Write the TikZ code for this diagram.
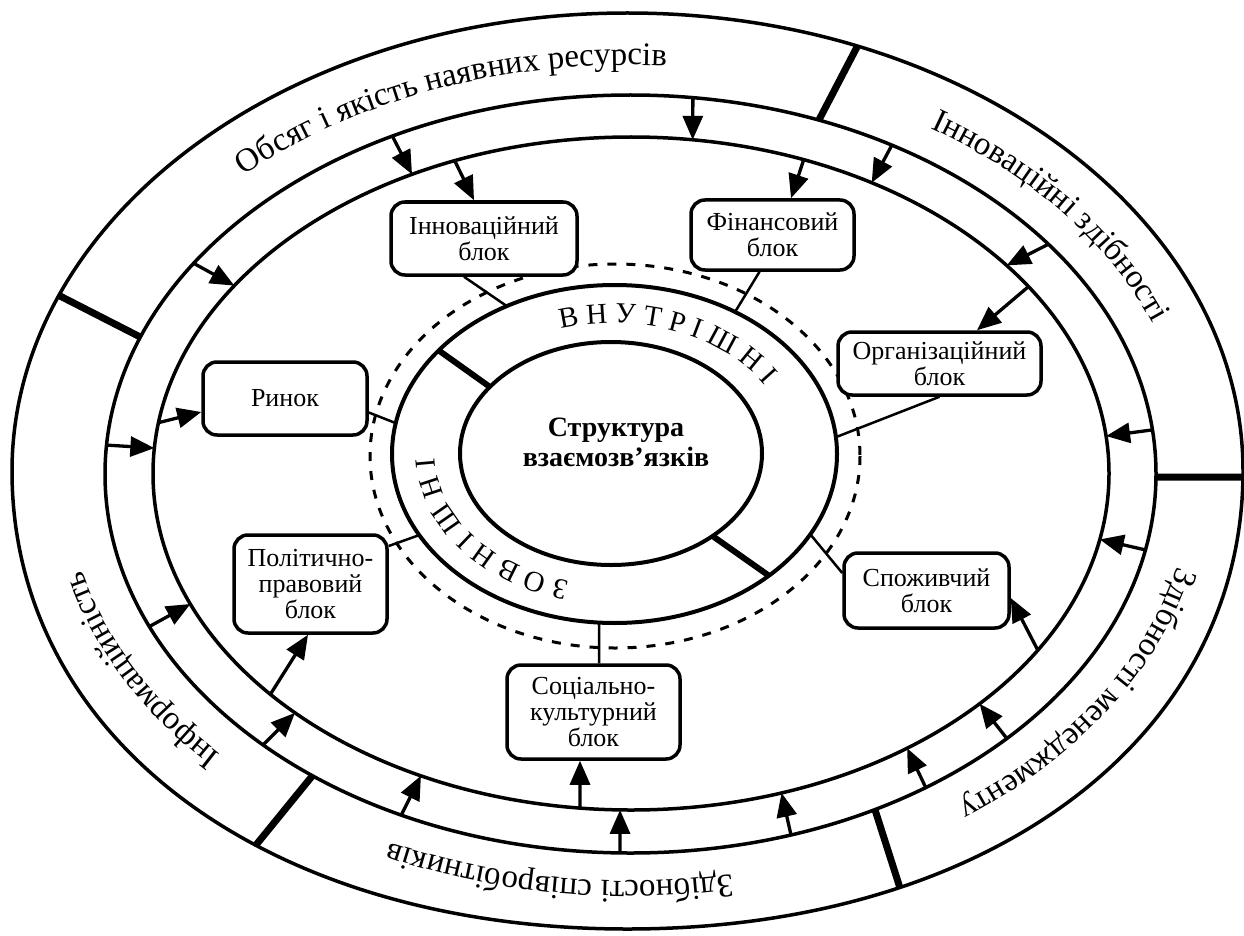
\documentclass[tikz,border=0pt]{standalone}
\usepackage{fontspec}
\setmainfont{Liberation Serif}
\usetikzlibrary{arrows.meta,calc,decorations.text}

% radial projection of a measured point onto an ellipse
\newcommand\onell[7]{%
  \pgfmathsetmacro\rsU{((#6)-(#2))/(#4)}%
  \pgfmathsetmacro\rsV{((#7)-(#3))/(#5)}%
  \pgfmathsetmacro\rsN{sqrt(\rsU*\rsU+\rsV*\rsV)}%
  \pgfmathsetmacro\rsX{(#2)+((#6)-(#2))/\rsN}%
  \pgfmathsetmacro\rsY{(#3)+((#7)-(#3))/\rsN}%
  \coordinate (#1) at (\rsX,\rsY);%
}
\newcommand\onEii[3]{\onell{#1}{630.5}{474}{525.5}{379}{#2}{#3}}
\newcommand\onEiii[3]{\onell{#1}{631}{473.5}{478}{336.5}{#2}{#3}}
\newcommand\onEiv[3]{\onell{#1}{614.5}{454}{222.5}{169}{#2}{#3}}
\newcommand\onEv[3]{\onell{#1}{611}{453.5}{151}{111.5}{#2}{#3}}
\newcommand\ringfont{\fontsize{33}{33}\selectfont}
\newcommand\midfont{\fontsize{29}{29}\selectfont}

\begin{document}
\begin{tikzpicture}[x=1pt,y=-1pt,
  ring/.style={line width=3.5pt},
  divider/.style={line width=7pt},
  arr/.style={line width=3.3pt,-{Triangle[length=24pt,width=20pt]}},
  link/.style={line width=2.5pt},
  blk/.style={draw,line width=3.5pt,rounded corners=14pt,fill=white,align=center,
              inner sep=0pt,font=\fontsize{26}{26}\selectfont},
  ringtext/.style={decorate,decoration={text along path,text align=center,text={|\ringfont|#1}}},
  midtext/.style={decorate,decoration={text along path,text align=center,text={|\midfont|#1}}},
  ]
\useasboundingbox (0,0) rectangle (1244,936);
\fill[white] (0,0) rectangle (1244,936);

% outer ellipses
\draw[ring] (1243,471) .. controls (1243,218) and (967.4,13) .. (627.5,13)
  .. controls (287.6,13) and (12,218) .. (12,471)
  .. controls (12,739) and (267.4,929) .. (627.5,929)
  .. controls (987.6,929) and (1243,739) .. cycle;
\draw[ring] (630.5,474) ellipse [x radius=525.5, y radius=379];
\draw[ring] (631,473.5) ellipse [x radius=478, y radius=336.5];

% dividers in the outer band
\coordinate (d1o) at (857,47);   \onEii{d1i}{820}{118}
\coordinate (d2o) at (60,296);   \onEii{d2i}{140}{337}
\coordinate (d3o) at (256,845);  \onEii{d3i}{310}{778}
\coordinate (d4o) at (1244,477); \onEii{d4i}{1156}{477}
\coordinate (d5o) at (900,888);  \onEii{d5i}{876}{811}
\foreach \k in {1,...,5} \draw[divider] (d\k o) -- (d\k i);

% arrows from ring E2 to ring E3
\foreach \n/\tx/\ty/\hx/\hy in {a1/393/137/411/173, a3/693/97/693/138, a5/892/145/874/180,
   a6/1047/245/1011/263, a8/1151/430/1107/436, a9/1146/550/1104/540,
   a11/1009/740/983/706, a12/928/790/912/753, a13/791/835/783/796,
   a14/620/853/620/812, a16/400/817/418/780, a17/263/745/292/715,
   a19/151/626/187/605, a20/105/445/153/448, a22/193/263/233/285}{
  \onEii{t\n}{\tx}{\ty}
  \onEiii{h\n}{\hx}{\hy}
  \draw[arr] (t\n) -- (h\n);
}

% dashed ellipse
\draw[line width=3pt, dash pattern=on 9pt off 10pt] (615,456) ellipse [x radius=245, y radius=192];

% inner ellipses
\draw[line width=4pt] (614.5,454) ellipse [x radius=222.5, y radius=169];
\draw[line width=4pt] (611,453.5) ellipse [x radius=151, y radius=111.5];
\onEiv{k1o}{438}{350} \onEv{k1i}{490}{387}
\onEv{k2i}{715}{538}  \onEiv{k2o}{768}{575}
\draw[line width=6pt] (k1o) -- (k1i);
\draw[line width=6pt] (k2i) -- (k2o);

% blocks
\node[blk, minimum width=186pt, minimum height=73pt] (inn) at (484,238.5) {Інноваційний\\блок};
\node[blk, minimum width=163pt, minimum height=70pt] (fin) at (772.5,235) {Фінансовий\\блок};
\node[blk, minimum width=203pt, minimum height=63pt] (org) at (939.5,363.5) {Організаційний\\блок};
\node[blk, minimum width=164pt, minimum height=73pt] (rin) at (285,398.5) {Ринок};
\node[blk, minimum width=153pt, minimum height=98pt] (pol) at (310.5,584) {Політично-\\правовий\\блок};
\node[blk, minimum width=173pt, minimum height=94pt] (soc) at (593.5,712) {Соціально-\\культурний\\блок};
\node[blk, minimum width=165pt, minimum height=75pt] (spo) at (926.5,590.5) {Споживчий\\блок};

% links from blocks to the middle ellipse
\onEiv{ci}{506}{305} \draw[link] ([xshift=-20pt]inn.south) -- (ci);
\onEiv{cf}{735}{312} \draw[link] ([xshift=-13pt]fin.south) -- (cf);
\onEiv{co}{838}{437} \draw[link] (org.south) -- (co);
\onEiv{cr}{395}{423} \draw[link] ([yshift=-14pt]rin.east) -- (cr);
\onEiv{cp}{417}{536} \draw[link] ([yshift=38pt]pol.east) -- (cp);
\onEiv{cs}{599}{623} \draw[link] ([xshift=5.5pt]soc.north) -- (cs);
\onEiv{cc}{812}{535} \draw[link] ([yshift=17.5pt]spo.west) -- (cc);

% arrows from ring E3 to blocks
\onEiii{tb2}{456}{163}      \draw[arr] (tb2) -- ([xshift=-10pt]inn.north);
\onEiii{tb4}{802.6}{161.7}  \draw[arr] (tb4) -- ([xshift=18.5pt]fin.north);
\onEiii{tb7}{1024.8}{288.3} \draw[arr] (tb7) -- ([xshift=37.5pt]org.north);
\onEiii{tb10}{1036.7}{649.7}\draw[arr] (tb10) -- ([yshift=-7.5pt]spo.east);
\onEiii{tb15}{580}{808}     \draw[arr] (tb15) -- ([xshift=-13.5pt]soc.south);
\onEiii{tb18}{269.8}{694.7} \draw[arr] (tb18) -- ([xshift=-2.5pt]pol.south);
\onEiii{tb21}{162}{423}     \draw[arr] (tb21) -- ([yshift=-13.5pt]rin.west);

% centre
\node[font=\bfseries\fontsize{28}{30}\selectfont, align=center] (core) at (616,442) {Структура\\взаємозв’язків};

% texts along the outer band
\path[ringtext={Обсяг і якість наявних ресурсів}] ($(629,473)+(-145:563 and 408)$) arc[start angle=-145, end angle=-76, x radius=563, y radius=408];
\path[ringtext={Інноваційні здібності}] ($(629,473)+(-66:563 and 408)$) arc[start angle=-66, end angle=-11, x radius=563, y radius=408];
\path[ringtext={Здібності менеджменту}] ($(629,473)+(6:563 and 408)$) arc[start angle=6, end angle=60, x radius=563, y radius=408];
\path[ringtext={Здібності співробітників}] ($(629,473)+(70:563 and 408)$) arc[start angle=70, end angle=125, x radius=563, y radius=408];
\path[ringtext={Інформаційність}] ($(629,473)+(130:563 and 408)$) arc[start angle=130, end angle=174, x radius=563, y radius=408];

% texts along the middle band
\path[midtext={В Н У Т Р І Ш Н І}] ($(613,454)+(-110:178 and 131)$) arc[start angle=-110, end angle=-28, x radius=178, y radius=131];
\path[midtext={З О В Н І Ш Н І}] ($(613,454)+(100:178 and 131)$) arc[start angle=100, end angle=184, x radius=178, y radius=131];
\end{tikzpicture}
\end{document}
